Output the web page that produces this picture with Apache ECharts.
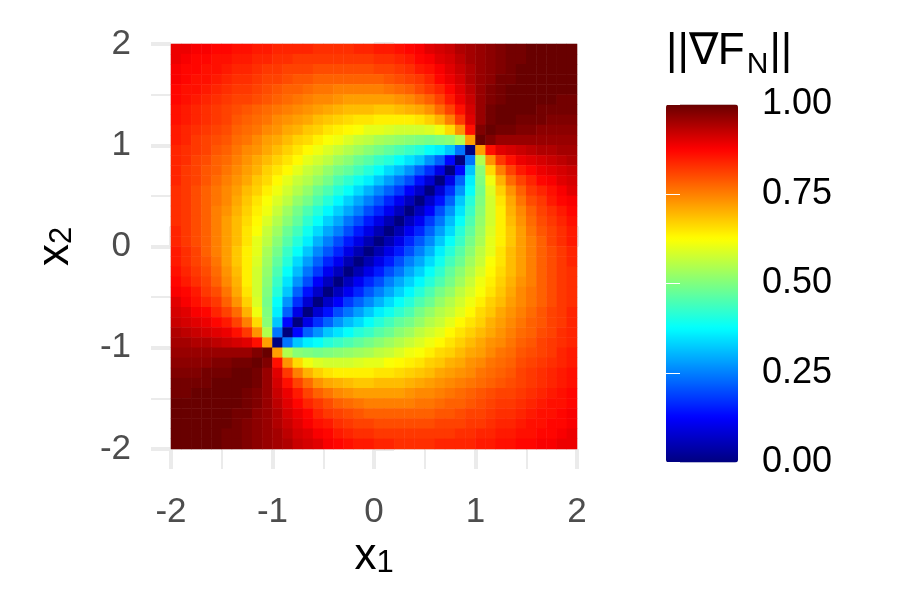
<!DOCTYPE html>
<html><head><meta charset="utf-8">
<style>html,body{margin:0;padding:0;background:#fff}#c{width:900px;height:600px}</style>
<script src="https://cdn.jsdelivr.net/npm/echarts@6/dist/echarts.min.js"></script>
</head><body><div id="c"></div>
<script>
const x1Centers=[-1.95,-1.85,-1.75,-1.65,-1.55,-1.45,-1.35,-1.25,-1.15,-1.05,-0.95,-0.85,-0.75,-0.65,-0.55,-0.45,-0.35,-0.25,-0.15,-0.05,0.05,0.15,0.25,0.35,0.45,0.55,0.65,0.75,0.85,0.95,1.05,1.15,1.25,1.35,1.45,1.55,1.65,1.75,1.85,1.95];
const x2Centers=x1Centers;
// gradient norm x100; rows run from x2 = 1.95 (top) to x2 = -1.95 (bottom)
const normRows=[
[89,89,88,88,87,87,86,86,85,85,84,84,84,84,83,83,83,83,84,84,85,85,86,87,88,90,91,92,94,95,96,97,98,99,99,100,100,100,100,100],
[89,88,87,87,86,86,85,85,84,84,83,83,82,82,82,82,82,82,82,82,83,83,84,85,87,88,90,91,93,95,96,97,98,99,99,100,100,100,100,100],
[88,87,87,86,86,85,84,84,83,82,82,81,81,81,80,80,80,80,80,80,81,81,82,83,85,86,88,90,92,94,96,97,98,99,100,100,100,100,100,100],
[88,87,86,86,85,84,83,83,82,81,81,80,79,79,78,78,78,78,78,78,78,79,80,81,82,84,87,89,91,94,96,97,99,99,100,100,100,100,100,100],
[87,86,86,85,84,83,82,82,81,80,79,78,78,77,76,76,75,75,75,75,75,76,77,78,80,82,84,87,90,93,96,98,99,100,100,100,100,100,100,100],
[87,86,85,84,83,82,81,81,80,79,78,77,76,75,74,74,73,72,72,72,72,72,73,74,76,78,81,85,89,92,96,98,99,100,100,100,100,100,99,99],
[86,85,84,83,82,81,80,79,78,77,76,75,74,73,72,71,70,69,69,69,68,68,69,70,71,73,77,81,86,91,96,99,100,100,100,100,99,99,99,99],
[86,85,84,83,82,81,79,78,77,76,74,73,72,71,69,68,67,66,65,65,64,64,64,64,65,67,70,75,82,90,96,99,100,100,99,99,99,98,98,98],
[85,84,83,82,81,80,78,77,76,74,73,71,70,68,67,65,64,63,62,60,60,59,58,58,58,59,61,66,73,86,98,100,99,99,98,98,97,97,97,97],
[85,84,82,81,80,79,77,76,74,72,71,69,67,66,64,62,61,59,57,56,54,53,52,51,50,49,50,51,55,72,100,98,96,96,96,96,96,96,96,96],
[84,83,82,81,79,78,76,74,73,71,69,67,65,63,61,59,57,55,53,51,49,47,45,43,41,38,36,32,24,0,72,86,90,91,92,93,94,94,95,95],
[84,83,81,80,78,77,75,73,71,69,67,65,63,60,58,56,53,51,48,46,43,41,38,35,32,27,22,13,0,24,55,73,82,86,89,90,91,92,93,94],
[84,82,81,79,78,76,74,72,70,67,65,63,60,57,55,52,49,47,44,41,38,34,31,27,22,17,10,0,13,32,51,66,75,81,85,87,89,90,91,92],
[84,82,81,79,77,75,73,71,68,66,63,60,57,55,52,49,45,42,39,36,32,28,24,20,14,8,0,10,22,36,50,61,70,77,81,84,87,88,90,91],
[83,82,80,78,76,74,72,69,67,64,61,58,55,52,48,45,41,38,34,30,26,22,18,12,7,0,8,17,27,38,49,59,67,73,78,82,84,86,88,90],
[83,82,80,78,76,74,71,68,65,62,59,56,52,49,45,41,37,33,29,25,21,16,11,6,0,7,14,22,32,41,50,58,65,71,76,80,82,85,87,88],
[83,82,80,78,75,73,70,67,64,61,57,53,49,45,41,37,33,29,25,20,16,11,6,0,6,12,20,27,35,43,51,58,64,70,74,78,81,83,85,87],
[83,82,80,78,75,72,69,66,63,59,55,51,47,42,38,33,29,24,20,15,10,5,0,6,11,18,24,31,38,45,52,58,64,69,73,77,80,82,84,86],
[84,82,80,78,75,72,69,65,62,57,53,48,44,39,34,29,25,20,15,10,5,0,5,11,16,22,28,34,41,47,53,59,64,68,72,76,79,81,83,85],
[84,82,80,78,75,72,69,65,60,56,51,46,41,36,30,25,20,15,10,5,0,5,10,16,21,26,32,38,43,49,54,60,64,68,72,75,78,81,83,85],
[85,83,81,78,75,72,68,64,60,54,49,43,38,32,26,21,16,10,5,0,5,10,15,20,25,30,36,41,46,51,56,60,65,69,72,75,78,80,82,84],
[85,83,81,79,76,72,68,64,59,53,47,41,34,28,22,16,11,5,0,5,10,15,20,25,29,34,39,44,48,53,57,62,65,69,72,75,78,80,82,84],
[86,84,82,80,77,73,69,64,58,52,45,38,31,24,18,11,6,0,5,10,15,20,24,29,33,38,42,47,51,55,59,63,66,69,72,75,78,80,82,83],
[87,85,83,81,78,74,70,64,58,51,43,35,27,20,12,6,0,6,11,16,20,25,29,33,37,41,45,49,53,57,61,64,67,70,73,75,78,80,82,83],
[88,87,85,82,80,76,71,65,58,50,41,32,22,14,7,0,6,11,16,21,25,29,33,37,41,45,49,52,56,59,62,65,68,71,74,76,78,80,82,83],
[90,88,86,84,82,78,73,67,59,49,38,27,17,8,0,7,12,18,22,26,30,34,38,41,45,48,52,55,58,61,64,67,69,72,74,76,78,80,82,83],
[91,90,88,87,84,81,77,70,61,50,36,22,10,0,8,14,20,24,28,32,36,39,42,45,49,52,55,57,60,63,66,68,71,73,75,77,79,81,82,84],
[92,91,90,89,87,85,81,75,66,51,32,13,0,10,17,22,27,31,34,38,41,44,47,49,52,55,57,60,63,65,67,70,72,74,76,78,79,81,82,84],
[94,93,92,91,90,89,86,82,73,55,24,0,13,22,27,32,35,38,41,43,46,48,51,53,56,58,60,63,65,67,69,71,73,75,77,78,80,81,83,84],
[95,95,94,94,93,92,91,90,86,72,0,24,32,36,38,41,43,45,47,49,51,53,55,57,59,61,63,65,67,69,71,73,74,76,78,79,81,82,83,84],
[96,96,96,96,96,96,96,96,98,100,72,55,51,50,49,50,51,52,53,54,56,57,59,61,62,64,66,67,69,71,72,74,76,77,79,80,81,82,84,85],
[97,97,97,97,98,98,99,99,100,98,86,73,66,61,59,58,58,58,59,60,60,62,63,64,65,67,68,70,71,73,74,76,77,78,80,81,82,83,84,85],
[98,98,98,99,99,99,100,100,99,96,90,82,75,70,67,65,64,64,64,64,65,65,66,67,68,69,71,72,73,74,76,77,78,79,81,82,83,84,85,86],
[99,99,99,99,100,100,100,100,99,96,91,86,81,77,73,71,70,69,68,68,69,69,69,70,71,72,73,74,75,76,77,78,79,80,81,82,83,84,85,86],
[99,99,100,100,100,100,100,99,98,96,92,89,85,81,78,76,74,73,72,72,72,72,72,73,74,74,75,76,77,78,79,80,81,81,82,83,84,85,86,87],
[100,100,100,100,100,100,100,99,98,96,93,90,87,84,82,80,78,77,76,75,75,75,75,75,76,76,77,78,78,79,80,81,82,82,83,84,85,86,86,87],
[100,100,100,100,100,100,99,99,97,96,94,91,89,87,84,82,81,80,79,78,78,78,78,78,78,78,79,79,80,81,81,82,83,83,84,85,86,86,87,88],
[100,100,100,100,100,100,99,98,97,96,94,92,90,88,86,85,83,82,81,81,80,80,80,80,80,80,81,81,81,82,82,83,84,84,85,86,86,87,87,88],
[100,100,100,100,100,99,99,98,97,96,95,93,91,90,88,87,85,84,83,83,82,82,82,82,82,82,82,82,83,83,84,84,85,85,86,86,87,87,88,89],
[100,100,100,100,100,99,99,98,97,96,95,94,92,91,90,88,87,86,85,85,84,84,83,83,83,83,84,84,84,84,85,85,86,86,87,87,88,88,89,89]
];
const palette=['#00007F','#0000FF','#007FFF','#00FFFF','#7FFF7F','#FFFF00','#FF7F00','#FF0000','#680000'];
const FONT='"Liberation Sans", Arial, sans-serif';
const cells=[];
normRows.forEach((row,r)=>row.forEach((v,c)=>cells.push([c,normRows.length-1-r,v/100])));

const tickLine={color:'#EBEBEB',width:4};
const minorLine={color:'#EBEBEB',width:2};
function tickAxis(extra){
  return Object.assign({type:'value',gridIndex:0,min:-2,max:2,interval:1,
    axisLine:{show:false},splitLine:{show:false},
    axisTick:{show:true,length:20,lineStyle:tickLine},
    minorTick:{show:true,splitNumber:2,length:20,lineStyle:minorLine},
    axisLabel:{show:false},z:1},extra);
}
function labelAxis(extra){
  return Object.assign({type:'value',gridIndex:0,min:-2,max:2,interval:1,
    axisLine:{show:false},splitLine:{show:false},axisTick:{show:false},minorTick:{show:false},z:2},extra);
}
const tickLabel={show:true,fontFamily:FONT,fontSize:35,color:'#4D4D4D',padding:[8,0,0,0],
  formatter:v=>String(v)};
const titleRich=(sub,size)=>({
  m:{fontFamily:FONT,fontSize:44,fontWeight:'normal',color:'#000'},
  s:{fontFamily:FONT,fontSize:size,fontWeight:'normal',color:'#000',padding:sub}
});
const chart=echarts.init(document.getElementById('c'),null,{renderer:'canvas'});
chart.setOption({
  animation:false,
  backgroundColor:'#fff',
  title:{left:666,top:24,padding:0,text:'{m|||∇F}{s|N}{m|||}',textStyle:{fontWeight:'normal',rich:titleRich([26,1,0,2],30)}},
  grid:[
    {left:171,top:44,width:406,height:405,show:true,borderColor:'#E4E4E4',borderWidth:1,backgroundColor:'transparent'},
    {left:666,top:104.5,width:72,height:358,show:false}
  ],
  xAxis:[
    {type:'category',gridIndex:0,data:x1Centers,show:false,position:'top'},
    labelAxis({position:'bottom',axisLabel:Object.assign({margin:38},tickLabel),
      name:'{m|x}{s|1}',nameLocation:'middle',nameGap:75,nameTextStyle:{rich:titleRich([14,0,0,0],31)}}),
    tickAxis({position:'top'}),
    tickAxis({position:'bottom'}),
    {type:'value',gridIndex:1,min:0,max:1,show:false}
  ],
  yAxis:[
    {type:'category',gridIndex:0,data:x2Centers,show:false,position:'right'},
    labelAxis({position:'left',axisLabel:Object.assign({margin:40},tickLabel),
      name:'{m|x}{s|2}',nameLocation:'middle',nameGap:93,nameRotate:90,nameTextStyle:{rich:titleRich([14,0,0,0],31)}}),
    tickAxis({position:'right'}),
    tickAxis({position:'left'}),
    {type:'value',gridIndex:1,position:'right',min:0,max:1,interval:0.25,z:10,
      axisLine:{show:false},splitLine:{show:false},
      axisTick:{show:true,inside:true,length:14,lineStyle:{color:'#fff',width:1}},
      axisLabel:{show:true,inside:false,margin:24,fontFamily:FONT,fontSize:36,color:'#000',padding:[8,0,0,0],formatter:v=>v.toFixed(2)}},
    {type:'value',gridIndex:1,position:'left',min:0,max:1,interval:0.25,z:10,
      axisLine:{show:false},splitLine:{show:false},axisLabel:{show:false},
      axisTick:{show:true,inside:true,length:14,lineStyle:{color:'#fff',width:1}}}
  ],
  visualMap:{type:'continuous',seriesIndex:0,min:0,max:1,calculable:false,realtime:false,
    left:666,top:104.5,itemWidth:72,itemHeight:358,text:['',''],showLabel:false,padding:0,
    inRange:{color:palette},hoverLink:false},
  series:[{type:'heatmap',xAxisIndex:0,yAxisIndex:0,data:cells,progressive:0,
    emphasis:{disabled:true},silent:true,z:3}]
});
</script></body></html>
